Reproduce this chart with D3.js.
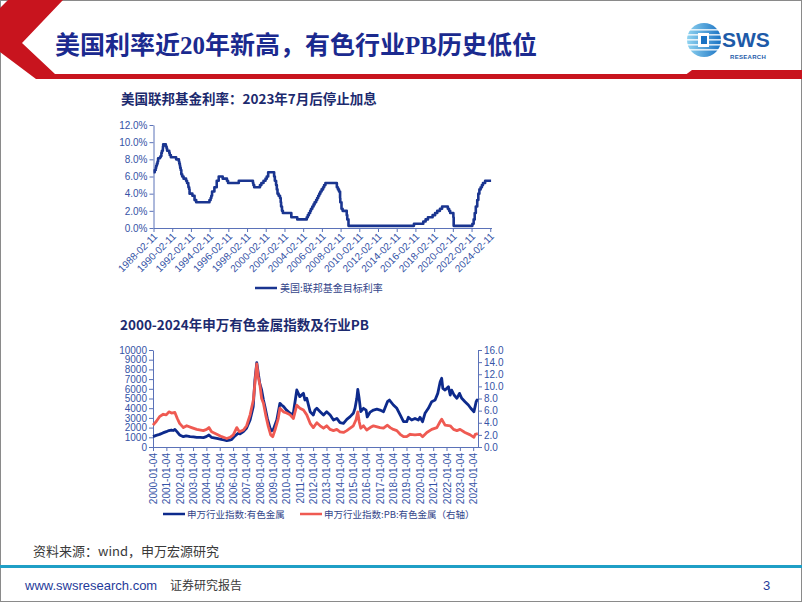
<!DOCTYPE html>
<html><head><meta charset="utf-8">
<script src="https://cdn.jsdelivr.net/npm/d3@7"></script>
<style>
html,body{margin:0;padding:0;background:#fff;}
svg{display:block;}
</style></head>
<body>
<svg id="c" width="802" height="602"></svg>
<script>
// ---------------- DATA ----------------
const fedDates = ["1988-02-11","1988-03-29","1988-05-09","1988-05-25","1988-06-22","1988-07-19","1988-08-09","1988-10-20","1988-11-17","1988-12-15","1989-01-05","1989-02-09","1989-02-14","1989-02-24","1989-06-06","1989-07-07","1989-07-27","1989-10-18","1989-11-06","1989-12-20","1990-07-13","1990-10-29","1990-11-14","1990-12-07","1990-12-19","1991-01-09","1991-02-01","1991-03-08","1991-04-30","1991-08-06","1991-09-13","1991-10-31","1991-11-06","1991-12-06","1991-12-20","1992-04-09","1992-07-02","1992-09-04","1994-02-04","1994-03-22","1994-04-18","1994-05-17","1994-08-16","1994-11-15","1995-02-01","1995-07-06","1995-12-19","1996-01-31","1997-03-25","1998-09-29","1998-10-15","1998-11-17","1999-06-30","1999-08-24","1999-11-16","2000-02-02","2000-03-21","2000-05-16","2001-01-03","2001-01-31","2001-03-20","2001-04-18","2001-05-15","2001-06-27","2001-08-21","2001-09-17","2001-10-02","2001-11-06","2001-12-11","2002-11-06","2003-06-25","2004-06-30","2004-08-10","2004-09-21","2004-11-10","2004-12-14","2005-02-02","2005-03-22","2005-05-03","2005-06-30","2005-08-09","2005-09-20","2005-11-01","2005-12-13","2006-01-31","2006-03-28","2006-05-10","2006-06-29","2007-09-18","2007-10-31","2007-12-11","2008-01-22","2008-01-30","2008-03-18","2008-04-30","2008-10-08","2008-10-29","2008-12-16","2015-12-16","2016-12-14","2017-03-15","2017-06-14","2017-12-13","2018-03-21","2018-06-13","2018-09-26","2018-12-19","2019-07-31","2019-09-18","2019-10-30","2020-03-03","2020-03-15","2022-03-16","2022-05-04","2022-06-15","2022-07-27","2022-09-21","2022-11-02","2022-12-14","2023-02-01","2023-03-22","2023-05-03","2023-07-26","2024-03-15"];
const fedValues = [6.5,6.75,7.0,7.25,7.5,7.75,8.125,8.25,8.375,8.75,9.0,9.25,9.5,9.75,9.5,9.25,9.0,8.75,8.5,8.25,8.0,7.75,7.5,7.25,7.0,6.75,6.25,6.0,5.75,5.5,5.25,5.0,4.75,4.5,4.0,3.75,3.25,3.0,3.25,3.5,3.75,4.25,4.75,5.5,6.0,5.75,5.5,5.25,5.5,5.25,5.0,4.75,5.0,5.25,5.5,5.75,6.0,6.5,6.0,5.5,5.0,4.5,4.0,3.75,3.5,3.0,2.5,2.0,1.75,1.25,1.0,1.25,1.5,1.75,2.0,2.25,2.5,2.75,3.0,3.25,3.5,3.75,4.0,4.25,4.5,4.75,5.0,5.25,4.75,4.5,4.25,3.5,3.0,2.25,2.0,1.5,1.0,0.25,0.5,0.75,1.0,1.25,1.5,1.75,2.0,2.25,2.5,2.25,2.0,1.75,1.25,0.25,0.5,1.0,1.75,2.5,3.25,4.0,4.5,4.75,5.0,5.25,5.5,5.5];

const topXTicks = ["1988-02-11","1990-02-11","1992-02-11","1994-02-11","1996-02-11","1998-02-11","2000-02-11","2002-02-11","2004-02-11","2006-02-11","2008-02-11","2010-02-11","2012-02-11","2014-02-11","2016-02-11","2018-02-11","2020-02-11","2022-02-11","2024-02-11"];
const topYTicks = [0,2,4,6,8,10,12];

const idxDates = ["2000-01-04","2000-04-01","2000-07-01","2000-10-01","2001-01-01","2001-03-15","2001-05-20","2001-07-15","2001-08-25","2001-10-20","2002-01-01","2002-04-15","2002-07-01","2002-10-15","2003-01-15","2003-04-15","2003-07-15","2003-10-15","2004-01-01","2004-03-15","2004-05-20","2004-08-01","2004-10-15","2005-02-15","2005-05-01","2005-07-15","2005-10-01","2005-12-01","2006-02-20","2006-05-20","2006-07-15","2006-10-15","2007-01-05","2007-04-15","2007-07-10","2007-08-25","2007-10-15","2007-11-25","2008-01-05","2008-02-25","2008-04-15","2008-05-25","2008-07-30","2008-10-15","2008-11-25","2009-01-05","2009-04-15","2009-07-10","2009-08-25","2009-10-20","2010-01-05","2010-04-15","2010-07-05","2010-10-15","2011-01-05","2011-04-15","2011-05-25","2011-07-15","2011-10-15","2012-01-10","2012-02-25","2012-04-15","2012-07-15","2012-10-15","2013-01-10","2013-04-15","2013-07-15","2013-10-15","2014-01-10","2014-04-15","2014-07-15","2014-10-15","2015-01-10","2015-02-25","2015-04-15","2015-05-12","2015-06-18","2015-08-01","2015-10-15","2015-12-25","2016-01-25","2016-04-15","2016-07-15","2016-10-15","2017-01-10","2017-04-15","2017-08-01","2017-09-25","2018-01-10","2018-04-15","2018-07-15","2018-10-15","2019-01-10","2019-02-25","2019-05-25","2019-08-25","2019-11-25","2020-01-10","2020-03-20","2020-05-25","2020-08-25","2020-11-25","2021-02-25","2021-05-10","2021-07-15","2021-08-25","2021-09-25","2021-11-25","2022-02-25","2022-04-15","2022-05-25","2022-07-30","2022-10-15","2022-12-25","2023-02-25","2023-05-25","2023-08-25","2023-10-30","2024-01-25","2024-02-25","2024-03-25","2024-04-20","2024-05-10"];
const idxValues = [1065,1200,1300,1450,1580,1700,1750,1700,1820,1580,1240,1065,1150,1065,1050,1000,1000,960,1065,1240,1000,950,890,790,720,650,700,790,1130,1400,1350,1580,1920,2780,4160,6900,8700,7600,6560,5880,4850,4160,2950,1920,1680,1750,2780,4500,4330,4160,3810,3470,3300,5880,5190,5530,4840,5020,3640,3300,3810,3990,3640,3300,3640,3300,2780,2950,2510,2440,2850,3130,3470,3990,5020,5940,5020,3640,3990,3810,3100,3600,3810,3900,3810,3640,4670,4840,4330,3990,3300,2610,2610,3060,2780,2950,2780,3060,2610,3470,3990,4670,4840,5530,6730,7080,6050,5870,6220,5360,5870,5360,5020,5530,5020,4670,4330,3990,3640,4160,4670,4840,4780];

const pbDates = ["2000-01-04","2000-04-01","2000-07-01","2000-10-10","2001-01-01","2001-03-15","2001-05-25","2001-08-25","2001-10-30","2002-01-01","2002-04-15","2002-07-15","2002-11-25","2003-04-15","2003-10-15","2004-01-10","2004-03-15","2004-05-25","2004-10-15","2005-02-25","2005-07-15","2005-10-15","2006-01-10","2006-04-15","2006-06-25","2006-10-15","2007-01-10","2007-04-15","2007-07-15","2007-08-25","2007-10-15","2007-11-25","2008-01-10","2008-02-25","2008-04-15","2008-06-25","2008-08-25","2008-10-30","2008-12-25","2009-02-25","2009-05-25","2009-07-10","2009-10-15","2010-01-10","2010-04-15","2010-07-15","2010-10-15","2011-01-10","2011-04-15","2011-07-15","2011-10-15","2012-01-10","2012-04-15","2012-07-15","2012-10-15","2013-01-10","2013-04-15","2013-07-15","2013-10-15","2014-01-10","2014-04-15","2014-07-15","2014-10-15","2015-01-10","2015-03-25","2015-05-12","2015-06-18","2015-08-01","2015-10-15","2016-01-10","2016-04-15","2016-07-15","2017-01-10","2017-04-15","2017-08-01","2017-10-15","2018-01-10","2018-04-15","2018-07-15","2018-10-15","2019-01-10","2019-04-15","2019-08-25","2020-01-10","2020-03-20","2020-07-15","2020-11-25","2021-04-15","2021-07-15","2021-08-25","2021-11-25","2022-04-15","2022-07-15","2022-10-15","2023-01-10","2023-05-25","2023-10-15","2024-01-25","2024-03-01","2024-05-10"];
const pbValues = [3.6,4.2,5.0,5.4,5.3,5.8,5.6,5.7,4.7,3.9,3.2,3.5,3.2,2.9,2.7,2.9,3.2,2.5,2.1,1.7,1.4,1.6,2.0,3.2,2.5,2.8,3.5,5.3,7.8,10.5,13.7,11.6,10.2,8.0,7.2,5.0,3.4,2.0,1.7,2.8,4.7,6.4,5.8,5.6,5.3,4.7,6.9,6.4,6.1,5.3,3.9,3.2,4.0,3.5,3.1,3.5,2.9,2.7,2.9,2.5,2.4,2.7,3.1,3.5,4.5,5.8,4.2,3.1,3.5,2.8,3.2,3.5,3.2,3.1,3.6,3.2,2.9,2.7,2.1,1.7,1.7,2.1,2.0,2.1,1.7,2.4,2.9,3.2,4.2,4.6,3.6,3.5,2.9,2.7,2.9,2.4,2.0,1.6,2.1,2.2];

const botXTicks = ["2000-01-04","2001-01-04","2002-01-04","2003-01-04","2004-01-04","2005-01-04","2006-01-04","2007-01-04","2008-01-04","2009-01-04","2010-01-04","2011-01-04","2012-01-04","2013-01-04","2014-01-04","2015-01-04","2016-01-04","2017-01-04","2018-01-04","2019-01-04","2020-01-04","2021-01-04","2022-01-04","2023-01-04","2024-01-04"];
const botYLeftTicks = [0,1000,2000,3000,4000,5000,6000,7000,8000,9000,10000];
const botYRightTicks = [0,2,4,6,8,10,12,14,16];

// ---------------- DRAW ----------------
const parse = d3.timeParse("%Y-%m-%d");
const svg = d3.select("#c");
const CJK = "'Noto Sans CJK SC', 'Liberation Sans', sans-serif";
const SANS = "'Liberation Sans', Arial, sans-serif";
const tickColor = "#3553a6";
const axisColor = "#5b72b8";

// page border
svg.append("rect").attr("x",0.5).attr("y",0.5).attr("width",801).attr("height",601)
  .attr("fill","none").attr("stroke","#8a8a8a").attr("stroke-width",1);

// header shapes
svg.append("polygon")
  .attr("points","8,0 63,0 22,43 55,74 802,74 802,79 36,79 0,52 0,8")
  .attr("fill","#c8141e");
svg.append("polygon")
  .attr("points","680,79 692,70 802,70 802,79")
  .attr("fill","#c8141e");

svg.append("text").attr("x",55).attr("y",54)
  .attr("font-family","'Liberation Serif', 'Noto Sans CJK SC', serif")
  .attr("font-weight","bold").attr("font-size",25).attr("fill","#1b2a8f")
  .text("美国利率近20年新高，有色行业PB历史低位");

// logo
const logo = svg.append("g").attr("transform","translate(704,40)");
const grad = svg.append("defs").append("linearGradient").attr("id","lg").attr("x1","0").attr("x2","1");
grad.append("stop").attr("offset","0").attr("stop-color","#8fd3f0");
grad.append("stop").attr("offset","1").attr("stop-color","#1a73c4");
logo.append("circle").attr("r",17).attr("fill","url(#lg)");
[-11,-6,-1,4,9].forEach(yy=>logo.append("rect").attr("x",-17).attr("y",yy).attr("width",34).attr("height",1.6).attr("fill","#fff").attr("opacity",0.8));
logo.append("rect").attr("x",-6).attr("y",-7).attr("width",11).attr("height",14).attr("fill","#fff");
logo.append("rect").attr("x",-3).attr("y",-4).attr("width",6).attr("height",8).attr("fill","#1a73c4");
svg.append("text").attr("x",722).attr("y",47).attr("font-family",SANS).attr("font-weight","bold")
  .attr("font-size",21).attr("fill","#1d5aa8").text("SWS");
svg.append("text").attr("x",730).attr("y",58.5).attr("font-family",SANS).attr("font-weight","bold")
  .attr("font-size",6).attr("fill","#1d5aa8").attr("letter-spacing",0.3).text("RESEARCH");

// ---------- Top chart ----------
svg.append("text").attr("x",121).attr("y",104).attr("font-family",CJK).attr("font-weight","bold")
  .attr("font-size",13.5).attr("fill","#1c2a6e").text("美国联邦基金利率：2023年7月后停止加息");

const xT = d3.scaleTime().domain([parse("1988-02-11"), parse("2024-03-31")]).range([153.5, 491.5]);
const yT = d3.scaleLinear().domain([0,12]).range([228,125]);

function styleAxis(g){
  g.select(".domain").attr("stroke",axisColor);
  g.selectAll(".tick line").attr("stroke",axisColor);
  g.selectAll(".tick text").attr("fill",tickColor).attr("font-family",SANS).attr("font-size",10);
}

const gyT = svg.append("g").attr("transform","translate(153.5,0)")
  .call(d3.axisLeft(yT).tickValues(topYTicks).tickFormat(d=>d.toFixed(1)+"%").tickSize(4).tickSizeOuter(0));
styleAxis(gyT);
gyT.selectAll(".tick text").attr("x",-6);

const gxT = svg.append("g").attr("transform","translate(0,228)")
  .call(d3.axisBottom(xT).tickValues(topXTicks.map(parse)).tickFormat(d3.timeFormat("%Y-%m-%d")).tickSize(4).tickSizeOuter(0));
styleAxis(gxT);
gxT.selectAll(".tick text").attr("x",0).attr("y",0).attr("dy",0)
  .attr("transform","translate(4,9) rotate(-45)").style("text-anchor","end");

const fedData = fedDates.map((d,i)=>({d:parse(d), v:fedValues[i]}));
svg.append("path").datum(fedData)
  .attr("d", d3.line().x(p=>xT(p.d)).y(p=>yT(p.v)).curve(d3.curveStepAfter))
  .attr("fill","none").attr("stroke","#1a3590").attr("stroke-width",2.6).attr("stroke-linejoin","round");

// top legend
svg.append("line").attr("x1",255).attr("x2",277).attr("y1",288).attr("y2",288).attr("stroke","#1a3590").attr("stroke-width",2.5);
svg.append("text").attr("x",280).attr("y",292).attr("font-family",CJK).attr("font-size",10).attr("fill","#33458a").text("美国:联邦基金目标利率");

// ---------- Bottom chart ----------
svg.append("text").attr("x",120).attr("y",330).attr("font-family",CJK).attr("font-weight","bold")
  .attr("font-size",13.5).attr("fill","#1c2a6e").text("2000-2024年申万有色金属指数及行业PB");

const xB = d3.scaleTime().domain([parse("2000-01-04"), parse("2024-05-15")]).range([153, 478]);
const yL = d3.scaleLinear().domain([0,10000]).range([447,350]);
const yR = d3.scaleLinear().domain([0,16]).range([447,350]);

const gyL = svg.append("g").attr("transform","translate(153,0)")
  .call(d3.axisLeft(yL).tickValues(botYLeftTicks).tickFormat(d3.format("d")).tickSize(4).tickSizeOuter(0));
styleAxis(gyL);
gyL.selectAll(".tick text").attr("x",-6);

const gyR = svg.append("g").attr("transform","translate(478,0)")
  .call(d3.axisRight(yR).tickValues(botYRightTicks).tickFormat(d=>d.toFixed(1)).tickSize(4).tickSizeOuter(0));
styleAxis(gyR);
gyR.selectAll(".tick text").attr("x",6);

const gxB = svg.append("g").attr("transform","translate(0,447)")
  .call(d3.axisBottom(xB).tickValues(botXTicks.map(parse)).tickFormat(d3.timeFormat("%Y-%m-%d")).tickSize(4).tickSizeOuter(0));
styleAxis(gxB);
gxB.selectAll(".tick text").attr("x",0).attr("y",0).attr("dy",0)
  .attr("transform","translate(3.5,6) rotate(-90)").style("text-anchor","end");

const idxData = idxDates.map((d,i)=>({d:parse(d), v:idxValues[i]}));
const pbData = pbDates.map((d,i)=>({d:parse(d), v:pbValues[i]}));
svg.append("path").datum(idxData)
  .attr("d", d3.line().x(p=>xB(p.d)).y(p=>yL(p.v)))
  .attr("fill","none").attr("stroke","#0d2a8c").attr("stroke-width",2.8).attr("stroke-linejoin","round");
svg.append("path").datum(pbData)
  .attr("d", d3.line().x(p=>xB(p.d)).y(p=>yR(p.v)))
  .attr("fill","none").attr("stroke","#ef5a52").attr("stroke-width",2.8).attr("stroke-linejoin","round");

// bottom legend
svg.append("line").attr("x1",163).attr("x2",185).attr("y1",514).attr("y2",514).attr("stroke","#0d2a8c").attr("stroke-width",2.5);
svg.append("text").attr("x",187).attr("y",518).attr("font-family",CJK).attr("font-size",9.5).attr("fill","#33458a").text("申万行业指数:有色金属");
svg.append("line").attr("x1",300).attr("x2",322).attr("y1",514).attr("y2",514).attr("stroke","#ef5a52").attr("stroke-width",2.5);
svg.append("text").attr("x",324).attr("y",518).attr("font-family",CJK).attr("font-size",9.5).attr("fill","#33458a").text("申万行业指数:PB:有色金属（右轴）");

// footer
svg.append("text").attr("x",33).attr("y",556).attr("font-family",CJK).attr("font-size",13).attr("fill","#3a3a3a").text("资料来源：wind，申万宏源研究");
svg.append("rect").attr("x",0).attr("y",565).attr("width",802).attr("height",3).attr("fill","#1f9fc6");
svg.append("text").attr("x",25).attr("y",590).attr("font-family",SANS).attr("font-size",13).attr("fill","#1f3b9a").text("www.swsresearch.com");
svg.append("text").attr("x",170).attr("y",590).attr("font-family",CJK).attr("font-size",12).attr("fill","#3a3a3a").text("证券研究报告");
svg.append("text").attr("x",763).attr("y",590).attr("font-family",SANS).attr("font-size",13).attr("fill","#1f3b9a").text("3");
</script>
</body></html>
